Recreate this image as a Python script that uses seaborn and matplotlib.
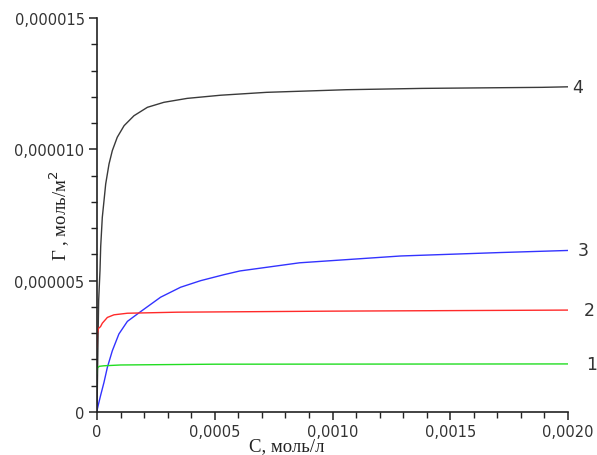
import matplotlib
matplotlib.use("Agg")
import matplotlib.pyplot as plt
import seaborn as sns
import pandas as pd
from matplotlib.ticker import FuncFormatter, MultipleLocator

# Curve 4 (black)
c4 = [0, 0.000004, 0.000007, 0.0000127, 0.0000157, 0.0000225, 0.0000297, 0.0000369,
      0.000051, 0.000065, 0.000086, 0.000115, 0.000157, 0.000214, 0.000284, 0.000383,
      0.000525, 0.00072, 0.00106, 0.00138, 0.00189, 0.002]
g4 = [0, 2.5e-6, 4.24e-6, 5.38e-6, 6.3e-6, 7.41e-6, 8.04e-6, 8.68e-6,
      9.44e-6, 9.95e-6, 10.46e-6, 10.9e-6, 11.28e-6, 11.6e-6, 11.79e-6, 11.94e-6,
      12.06e-6, 12.17e-6, 12.27e-6, 12.32e-6, 12.36e-6, 12.38e-6]
# Curve 3 (blue)
c3 = [0, 0.000005, 0.000015, 0.0000297, 0.000044, 0.000065, 0.000093, 0.000129,
      0.000185, 0.00027, 0.000355, 0.00044, 0.00054, 0.000607, 0.00086, 0.00129,
      0.00171, 0.002]
g3 = [0.05e-6, 0.25e-6, 0.62e-6, 1.13e-6, 1.7e-6, 2.33e-6, 2.97e-6, 3.45e-6,
      3.82e-6, 4.37e-6, 4.75e-6, 5.0e-6, 5.23e-6, 5.37e-6, 5.68e-6, 5.94e-6,
      6.07e-6, 6.15e-6]
# Curve 2 (red)
c2 = [0, 0.000002, 0.000006, 0.000015, 0.0000225, 0.000044, 0.000072, 0.000129,
      0.00034, 0.001, 0.002]
g2 = [2.46e-6, 3.0e-6, 3.18e-6, 3.25e-6, 3.38e-6, 3.6e-6, 3.7e-6, 3.76e-6,
      3.8e-6, 3.84e-6, 3.88e-6]
# Curve 1 (green)
c1 = [0, 0.000002, 0.00001, 0.00003, 0.0001, 0.0005, 0.002]
g1 = [1.45e-6, 1.68e-6, 1.74e-6, 1.76e-6, 1.79e-6, 1.82e-6, 1.83e-6]

curve_names = ["4", "3", "2", "1"]
curve_colors = ["#3a3a3a", "#3333ff", "#ff2a2a", "#22dd22"]
label_offsets = [7, 11, 15, 17]

x_ticks = [0, 0.0005, 0.0010, 0.0015, 0.0020]
y_ticks = [0, 0.000005, 0.000010, 0.000015]

sns.set_style("ticks")
plt.rcParams['font.family'] = ['DejaVu Sans']

fig = plt.figure(figsize=(5.97, 4.56), dpi=100)
ax = fig.add_axes([97/597, 1 - 413/456, (568 - 97)/597, (413 - 19)/456])

frames = []
for name, cs, gs in zip(curve_names, [c4, c3, c2, c1], [g4, g3, g2, g1]):
    frames.append(pd.DataFrame({"C": cs, "G": gs, "curve": name}))
df = pd.concat(frames, ignore_index=True)

sns.lineplot(data=df, x="C", y="G", hue="curve", hue_order=curve_names,
             palette=dict(zip(curve_names, curve_colors)), estimator=None,
             sort=False, linewidth=1.0, legend=False, ax=ax)

for name, cs, gs, off in zip(curve_names, [c4, c3, c2, c1], [g4, g3, g2, g1], label_offsets):
    ax.annotate(name, xy=(cs[-1], gs[-1]), xytext=(off, 0), textcoords="offset points",
                ha="center", va="center", fontsize=12.5, color="#333333",
                annotation_clip=False)

ax.set_xlim(0, 0.002)
ax.set_ylim(0, 0.000015)
ax.set_xticks(x_ticks)
ax.set_yticks(y_ticks)
ax.xaxis.set_minor_locator(MultipleLocator(0.0001))
ax.yaxis.set_minor_locator(MultipleLocator(0.000001))


def fx(v, pos):
    return "0" if abs(v) < 1e-12 else f"{v:.4f}".replace(".", ",")


def fy(v, pos):
    return "0" if abs(v) < 1e-15 else f"{v:.6f}".replace(".", ",")


ax.xaxis.set_major_formatter(FuncFormatter(fx))
ax.yaxis.set_major_formatter(FuncFormatter(fy))

for s in ["top", "right"]:
    ax.spines[s].set_visible(False)
for s in ["left", "bottom"]:
    ax.spines[s].set_color("#222222")
    ax.spines[s].set_linewidth(1.2)

ax.tick_params(which="major", direction="out", length=6, width=1.1, color="#222222",
               labelsize=10.5, labelcolor="#333333", pad=3.0)
ax.tick_params(which="minor", direction="out", length=4.5, width=1.0, color="#222222")

ax.set_xlabel("С, моль/л", family=["Liberation Serif"], fontsize=13.5, color="#222222")
ax.set_ylabel("Γ , моль/м$^2$", family=["Liberation Serif"], fontsize=13.5, color="#222222")
ax.xaxis.set_label_coords(0.403, -0.063)
ax.yaxis.set_label_coords(-0.053, 0.50)

fig.savefig("out.png", dpi=100)
